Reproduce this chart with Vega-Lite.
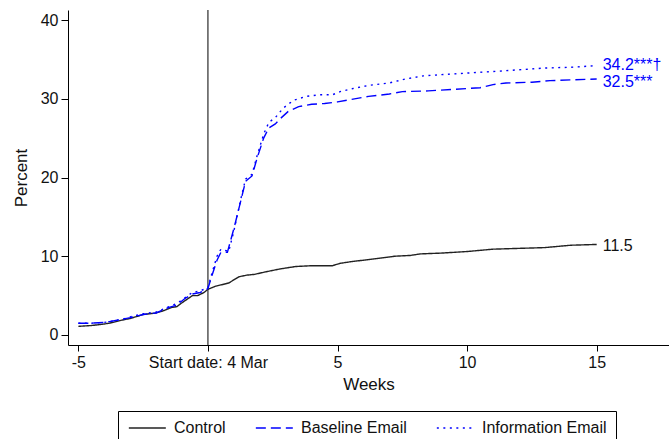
{
  "$schema": "https://vega.github.io/schema/vega-lite/v6.json",
  "width": 601,
  "height": 335,
  "autosize": {"type": "none"},
  "padding": {"left": 68, "top": 10, "right": 0, "bottom": 94},
  "background": "white",
  "config": {
    "font": "Liberation Sans",
    "view": {"stroke": null},
    "axis": {
      "grid": false,
      "domainColor": "#000000",
      "domainWidth": 1,
      "tickColor": "#000000",
      "tickWidth": 1,
      "labelFont": "Liberation Sans",
      "labelFontSize": 16,
      "labelColor": "#111111",
      "titleFont": "Liberation Sans",
      "titleFontSize": 17,
      "titleFontWeight": "normal",
      "titleColor": "#111111"
    },
    "legend": {
      "title": null,
      "orient": "none",
      "direction": "horizontal",
      "legendX": 50,
      "legendY": 401,
      "symbolType": "M-1,0H5",
      "symbolSize": 152,
      "symbolStrokeWidth": 1.4,
      "labelFont": "Liberation Sans",
      "labelFontSize": 16,
      "labelColor": "#111111",
      "labelOffset": 31,
      "columnPadding": 27,
      "padding": 9,
      "strokeColor": "#000000",
      "fillColor": "white"
    }
  },
  "datasets": {
    "series": [
      {"week": -5, "pct": 1.1, "group": "Control"},
      {"week": -4.5, "pct": 1.2, "group": "Control"},
      {"week": -4, "pct": 1.4, "group": "Control"},
      {"week": -3.8, "pct": 1.5, "group": "Control"},
      {"week": -3.3, "pct": 1.9, "group": "Control"},
      {"week": -3, "pct": 2.1, "group": "Control"},
      {"week": -2.5, "pct": 2.6, "group": "Control"},
      {"week": -2, "pct": 2.8, "group": "Control"},
      {"week": -1.7, "pct": 3.1, "group": "Control"},
      {"week": -1.4, "pct": 3.5, "group": "Control"},
      {"week": -1.2, "pct": 3.6, "group": "Control"},
      {"week": -1, "pct": 4.1, "group": "Control"},
      {"week": -0.6, "pct": 5.0, "group": "Control"},
      {"week": -0.4, "pct": 5.0, "group": "Control"},
      {"week": -0.15, "pct": 5.4, "group": "Control"},
      {"week": 0, "pct": 5.8, "group": "Control"},
      {"week": 0.3, "pct": 6.2, "group": "Control"},
      {"week": 0.8, "pct": 6.6, "group": "Control"},
      {"week": 1.2, "pct": 7.4, "group": "Control"},
      {"week": 1.5, "pct": 7.6, "group": "Control"},
      {"week": 1.8, "pct": 7.7, "group": "Control"},
      {"week": 2.2, "pct": 8.0, "group": "Control"},
      {"week": 2.8, "pct": 8.4, "group": "Control"},
      {"week": 3.4, "pct": 8.7, "group": "Control"},
      {"week": 4.0, "pct": 8.8, "group": "Control"},
      {"week": 4.8, "pct": 8.8, "group": "Control"},
      {"week": 5.1, "pct": 9.1, "group": "Control"},
      {"week": 5.5, "pct": 9.3, "group": "Control"},
      {"week": 6.0, "pct": 9.5, "group": "Control"},
      {"week": 6.5, "pct": 9.7, "group": "Control"},
      {"week": 7.2, "pct": 10.0, "group": "Control"},
      {"week": 7.8, "pct": 10.1, "group": "Control"},
      {"week": 8.2, "pct": 10.3, "group": "Control"},
      {"week": 9.0, "pct": 10.4, "group": "Control"},
      {"week": 10.0, "pct": 10.6, "group": "Control"},
      {"week": 11.0, "pct": 10.9, "group": "Control"},
      {"week": 12.0, "pct": 11.0, "group": "Control"},
      {"week": 13.0, "pct": 11.1, "group": "Control"},
      {"week": 14.0, "pct": 11.4, "group": "Control"},
      {"week": 15.0, "pct": 11.5, "group": "Control"},

      {"week": -5, "pct": 1.5, "group": "Baseline Email"},
      {"week": -4.5, "pct": 1.5, "group": "Baseline Email"},
      {"week": -4, "pct": 1.6, "group": "Baseline Email"},
      {"week": -3.8, "pct": 1.7, "group": "Baseline Email"},
      {"week": -3.3, "pct": 2.0, "group": "Baseline Email"},
      {"week": -3, "pct": 2.2, "group": "Baseline Email"},
      {"week": -2.5, "pct": 2.6, "group": "Baseline Email"},
      {"week": -2, "pct": 2.8, "group": "Baseline Email"},
      {"week": -1.5, "pct": 3.5, "group": "Baseline Email"},
      {"week": -1.2, "pct": 3.8, "group": "Baseline Email"},
      {"week": -0.9, "pct": 4.6, "group": "Baseline Email"},
      {"week": -0.6, "pct": 5.2, "group": "Baseline Email"},
      {"week": -0.3, "pct": 5.4, "group": "Baseline Email"},
      {"week": 0, "pct": 5.9, "group": "Baseline Email"},
      {"week": 0.15, "pct": 7.5, "group": "Baseline Email"},
      {"week": 0.35, "pct": 9.5, "group": "Baseline Email"},
      {"week": 0.5, "pct": 10.5, "group": "Baseline Email"},
      {"week": 0.75, "pct": 10.5, "group": "Baseline Email"},
      {"week": 1.0, "pct": 13.5, "group": "Baseline Email"},
      {"week": 1.25, "pct": 16.8, "group": "Baseline Email"},
      {"week": 1.45, "pct": 19.5, "group": "Baseline Email"},
      {"week": 1.7, "pct": 20.2, "group": "Baseline Email"},
      {"week": 1.9, "pct": 22.5, "group": "Baseline Email"},
      {"week": 2.15, "pct": 25.0, "group": "Baseline Email"},
      {"week": 2.35, "pct": 26.3, "group": "Baseline Email"},
      {"week": 2.6, "pct": 26.8, "group": "Baseline Email"},
      {"week": 2.8, "pct": 27.5, "group": "Baseline Email"},
      {"week": 3.1, "pct": 28.4, "group": "Baseline Email"},
      {"week": 3.5, "pct": 29.0, "group": "Baseline Email"},
      {"week": 4.0, "pct": 29.3, "group": "Baseline Email"},
      {"week": 4.5, "pct": 29.4, "group": "Baseline Email"},
      {"week": 5.0, "pct": 29.6, "group": "Baseline Email"},
      {"week": 5.5, "pct": 29.9, "group": "Baseline Email"},
      {"week": 6.2, "pct": 30.3, "group": "Baseline Email"},
      {"week": 7.0, "pct": 30.6, "group": "Baseline Email"},
      {"week": 7.5, "pct": 30.9, "group": "Baseline Email"},
      {"week": 8.5, "pct": 31.0, "group": "Baseline Email"},
      {"week": 9.5, "pct": 31.2, "group": "Baseline Email"},
      {"week": 10.5, "pct": 31.4, "group": "Baseline Email"},
      {"week": 11.0, "pct": 31.8, "group": "Baseline Email"},
      {"week": 11.5, "pct": 32.0, "group": "Baseline Email"},
      {"week": 12.5, "pct": 32.1, "group": "Baseline Email"},
      {"week": 13.2, "pct": 32.3, "group": "Baseline Email"},
      {"week": 14.0, "pct": 32.4, "group": "Baseline Email"},
      {"week": 15.0, "pct": 32.5, "group": "Baseline Email"},

      {"week": -5, "pct": 1.5, "group": "Information Email"},
      {"week": -4.5, "pct": 1.5, "group": "Information Email"},
      {"week": -4, "pct": 1.6, "group": "Information Email"},
      {"week": -3.8, "pct": 1.7, "group": "Information Email"},
      {"week": -3.3, "pct": 2.0, "group": "Information Email"},
      {"week": -3, "pct": 2.3, "group": "Information Email"},
      {"week": -2.5, "pct": 2.7, "group": "Information Email"},
      {"week": -2, "pct": 2.9, "group": "Information Email"},
      {"week": -1.5, "pct": 3.6, "group": "Information Email"},
      {"week": -1.2, "pct": 4.0, "group": "Information Email"},
      {"week": -0.9, "pct": 4.7, "group": "Information Email"},
      {"week": -0.6, "pct": 5.4, "group": "Information Email"},
      {"week": -0.3, "pct": 5.6, "group": "Information Email"},
      {"week": 0, "pct": 6.0, "group": "Information Email"},
      {"week": 0.15, "pct": 7.8, "group": "Information Email"},
      {"week": 0.35, "pct": 10.0, "group": "Information Email"},
      {"week": 0.5, "pct": 10.9, "group": "Information Email"},
      {"week": 0.8, "pct": 10.6, "group": "Information Email"},
      {"week": 1.0, "pct": 13.2, "group": "Information Email"},
      {"week": 1.25, "pct": 17.0, "group": "Information Email"},
      {"week": 1.45, "pct": 19.8, "group": "Information Email"},
      {"week": 1.7, "pct": 20.4, "group": "Information Email"},
      {"week": 1.9, "pct": 22.8, "group": "Information Email"},
      {"week": 2.15, "pct": 25.5, "group": "Information Email"},
      {"week": 2.35, "pct": 27.0, "group": "Information Email"},
      {"week": 2.6, "pct": 27.6, "group": "Information Email"},
      {"week": 2.9, "pct": 28.8, "group": "Information Email"},
      {"week": 3.3, "pct": 29.8, "group": "Information Email"},
      {"week": 3.8, "pct": 30.3, "group": "Information Email"},
      {"week": 4.3, "pct": 30.5, "group": "Information Email"},
      {"week": 4.8, "pct": 30.5, "group": "Information Email"},
      {"week": 5.1, "pct": 30.9, "group": "Information Email"},
      {"week": 5.6, "pct": 31.3, "group": "Information Email"},
      {"week": 6.2, "pct": 31.7, "group": "Information Email"},
      {"week": 7.0, "pct": 32.0, "group": "Information Email"},
      {"week": 7.6, "pct": 32.5, "group": "Information Email"},
      {"week": 8.3, "pct": 32.9, "group": "Information Email"},
      {"week": 9.2, "pct": 33.1, "group": "Information Email"},
      {"week": 10.2, "pct": 33.3, "group": "Information Email"},
      {"week": 11.2, "pct": 33.5, "group": "Information Email"},
      {"week": 12.1, "pct": 33.7, "group": "Information Email"},
      {"week": 13.0, "pct": 33.9, "group": "Information Email"},
      {"week": 14.0, "pct": 34.0, "group": "Information Email"},
      {"week": 15.0, "pct": 34.2, "group": "Information Email"}
    ],
    "labels": [
      {"week": 15, "pct": 34.2, "group": "Information Email", "label": "34.2***†"},
      {"week": 15, "pct": 32.5, "group": "Baseline Email", "label": "32.5***"},
      {"week": 15, "pct": 11.5, "group": "Control", "label": "11.5"}
    ],
    "start": [
      {"week": 0}
    ]
  },
  "layer": [
    {
      "data": {"name": "start"},
      "mark": {"type": "rule", "color": "#000000", "strokeWidth": 1},
      "encoding": {
        "x": {"field": "week", "type": "quantitative"}
      }
    },
    {
      "data": {"name": "series"},
      "mark": {"type": "line", "strokeWidth": 1.4, "strokeCap": "butt"},
      "encoding": {
        "x": {
          "field": "week",
          "type": "quantitative",
          "title": "Weeks",
          "scale": {"domain": [-5.40, 17.79], "nice": false, "zero": false},
          "axis": {
            "values": [-5, 0, 5, 10, 15],
            "labelExpr": "datum.value == 0 ? 'Start date: 4 Mar' : (datum.value < 0 ? '-' + abs(datum.value) : datum.label)",
            "tickSize": 6,
            "labelPadding": 3,
            "titlePadding": 6
          }
        },
        "y": {
          "field": "pct",
          "type": "quantitative",
          "title": "Percent",
          "scale": {"domain": [-1.27, 41.27], "nice": false, "zero": false},
          "axis": {
            "values": [0, 10, 20, 30, 40],
            "tickSize": 7,
            "labelPadding": 3,
            "titlePadding": 10
          }
        },
        "color": {
          "field": "group",
          "type": "nominal",
          "scale": {
            "domain": ["Control", "Baseline Email", "Information Email"],
            "range": ["#222222", "#0000ff", "#0000ff"]
          }
        },
        "strokeDash": {
          "field": "group",
          "type": "nominal",
          "scale": {
            "domain": ["Control", "Baseline Email", "Information Email"],
            "range": [[1, 0], [10, 5], [2, 4.5]]
          }
        }
      }
    },
    {
      "data": {"name": "labels"},
      "transform": [{"filter": "datum.group == 'Information Email'"}],
      "mark": {"type": "text", "align": "left", "baseline": "middle", "dx": 6, "dy": -1, "fontSize": 16, "font": "Liberation Sans", "color": "#0000ff"},
      "encoding": {
        "x": {"field": "week", "type": "quantitative"},
        "y": {"field": "pct", "type": "quantitative"},
        "text": {"field": "label"}
      }
    },
    {
      "data": {"name": "labels"},
      "transform": [{"filter": "datum.group == 'Baseline Email'"}],
      "mark": {"type": "text", "align": "left", "baseline": "middle", "dx": 6, "dy": 3, "fontSize": 16, "font": "Liberation Sans", "color": "#0000ff"},
      "encoding": {
        "x": {"field": "week", "type": "quantitative"},
        "y": {"field": "pct", "type": "quantitative"},
        "text": {"field": "label"}
      }
    },
    {
      "data": {"name": "labels"},
      "transform": [{"filter": "datum.group == 'Control'"}],
      "mark": {"type": "text", "align": "left", "baseline": "middle", "dx": 6, "dy": 2, "fontSize": 16, "font": "Liberation Sans", "color": "#111111"},
      "encoding": {
        "x": {"field": "week", "type": "quantitative"},
        "y": {"field": "pct", "type": "quantitative"},
        "text": {"field": "label"}
      }
    }
  ]
}
